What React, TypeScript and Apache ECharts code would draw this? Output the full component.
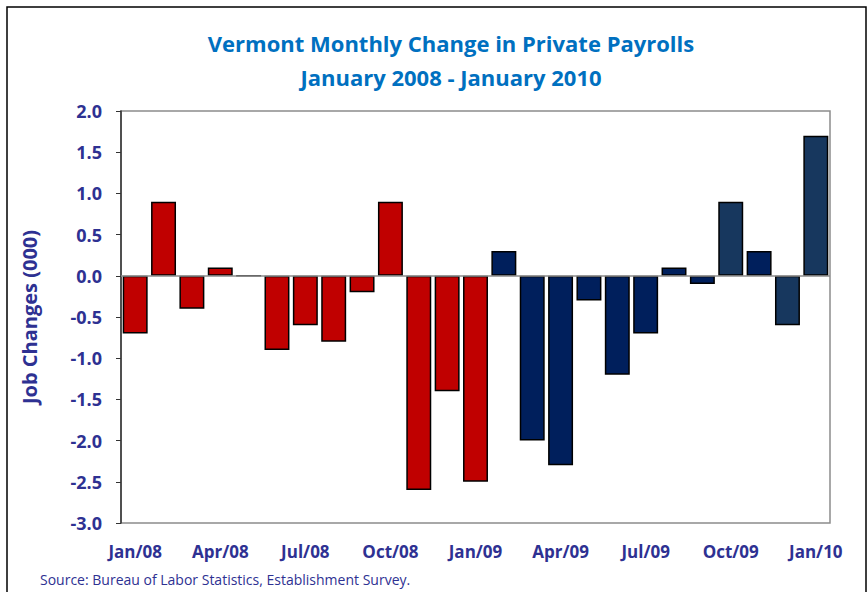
import React, { useEffect, useRef } from "react";
import * as echarts from "echarts";

const categories = [
  "Jan/08", "Feb/08", "Mar/08", "Apr/08", "May/08", "Jun/08", "Jul/08", "Aug/08", "Sep/08",
  "Oct/08", "Nov/08", "Dec/08", "Jan/09", "Feb/09", "Mar/09", "Apr/09", "May/09", "Jun/09",
  "Jul/09", "Aug/09", "Sep/09", "Oct/09", "Nov/09", "Dec/09", "Jan/10",
];
const jobChanges = [
  -0.7, 0.9, -0.4, 0.1, 0, -0.9, -0.6, -0.8, -0.2,
  0.9, -2.6, -1.4, -2.5, 0.3, -2.0, -2.3, -0.3, -1.2,
  -0.7, 0.1, -0.1, 0.9, 0.3, -0.6, 1.7,
];
// colour group per month: 0 = red, 1 = navy, 2 = slate navy
const colorGroup = [
  0, 0, 0, 0, 0, 0, 0, 0, 0,
  0, 0, 0, 0, 1, 1, 1, 1, 1,
  1, 1, 1, 2, 1, 2, 2,
];
const palette = ["#C00000", "#001F5C", "#17375E"];

const titleLines = ["Vermont Monthly Change in Private Payrolls", "January 2008 - January 2010"];
const yAxisName = "Job Changes (000)";
const sourceText = "Source: Bureau of Labor Statistics, Establishment Survey.";

const FONT = "'Open Sans', Lato, sans-serif";
const LABEL_COLOR = "#2E3192";

export default function App() {
  const ref = useRef<HTMLDivElement>(null);
  useEffect(() => {
    if (!ref.current) return;
    const chart = echarts.init(ref.current, undefined, { renderer: "svg" });
    chart.setOption({
      animation: false,
      backgroundColor: "#ffffff",
      title: {
        text: titleLines.join("\n"),
        left: 446,
        top: 21,
        textAlign: "center",
        textStyle: {
          fontFamily: FONT,
          fontWeight: "bold",
          fontSize: 22,
          color: "#0070C0",
          lineHeight: 34,
        },
      },
      graphic: [
        {
          type: "rect",
          shape: { x: 7, y: 7, width: 859, height: 620 },
          style: { fill: "none", stroke: "#000", lineWidth: 1.5 },
          silent: true,
        },
        {
          type: "text",
          x: 40,
          y: 572,
          style: {
            text: sourceText,
            fontFamily: FONT,
            fontSize: 14,
            fill: LABEL_COLOR,
          },
        },
      ],
      grid: {
        left: 121,
        top: 111,
        right: 38,
        bottom: 69,
        show: true,
        borderColor: "#8c8c8c",
        borderWidth: 1.5,
        backgroundColor: "transparent",
      },
      xAxis: {
        type: "category",
        data: categories,
        axisLine: { show: false, onZero: false },
        axisTick: { show: false },
        axisLabel: {
          interval: 2,
          margin: 20,
          fontFamily: FONT,
          fontWeight: "bold",
          fontSize: 17,
          color: LABEL_COLOR,
        },
      },
      yAxis: {
        type: "value",
        min: -3,
        max: 2,
        interval: 0.5,
        name: yAxisName,
        nameLocation: "middle",
        nameGap: 82,
        nameTextStyle: {
          fontFamily: FONT,
          fontWeight: "bold",
          fontSize: 20,
          color: LABEL_COLOR,
        },
        axisLine: { show: true, lineStyle: { color: "#333", width: 1.5 } },
        axisTick: { show: true, inside: false, length: 5, lineStyle: { color: "#333", width: 1 } },
        splitLine: { show: false },
        axisLabel: {
          margin: 19,
          fontFamily: FONT,
          fontWeight: "bold",
          fontSize: 18,
          color: LABEL_COLOR,
          formatter: (v: number) => v.toFixed(1),
        },
      },
      series: [
        {
          type: "bar",
          barWidth: "88%",
          data: jobChanges.map((v, i) => ({
            value: v,
            itemStyle: { color: palette[colorGroup[i]] },
          })),
          itemStyle: { borderColor: "#000", borderWidth: 1.5 },
          markLine: {
            silent: true,
            symbol: "none",
            label: { show: false },
            lineStyle: { color: "#8c8c8c", width: 1.5, type: "solid" },
            data: [{ yAxis: 0 }],
          },
          z: 3,
        },
      ],
    });
    return () => chart.dispose();
  }, []);
  return (
    <div
      ref={ref}
      style={{ position: "fixed", left: 0, top: 0, width: 868, height: 592 }}
    />
  );
}
